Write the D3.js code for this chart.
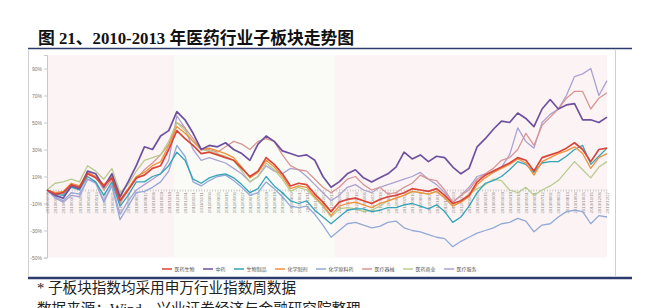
<!DOCTYPE html>
<html>
<head>
<meta charset="utf-8">
<script src="https://cdn.jsdelivr.net/npm/d3@7"></script>
<style>
body { margin: 0; background: #fff; }
</style>
</head>
<body>
<svg id="chart" width="646" height="308"></svg>
<script>
// weekly data, sampled every 3 weeks (one point per x-axis label)
var dates = d3.range(70).map(function(i) { return d3.timeDay.offset(new Date(2010, 0, 8), 21 * i); });

var names = ['医药生物', '中药', '生物制品', '化学制剂', '化学原料药', '医疗器械', '医药商业', '医疗服务'];
var colors = ['#d9453a', '#6e509f', '#33a4b8', '#f0923c', '#92a8d6', '#d99595', '#b8cb8e', '#aaa2d2'];

var yiyaoshengwu = [0,-3,-2,4,2,12,9,3,9,-8, 0,9,11,16,18,30,44,38,33,27, 28,26,24,22,16,10,14,24,19,12, 3,5,4,-3,-9,-16,-9,-7,-6,-8, -10,-7,-5,-4,-2,1,0,-1,1,-4, -10,-8,-4,6,11,14,17,20,24,22, 14,24,26,28,31,35,30,21,30,31];
var zhongyao = [0,-4,-6,3,1,14,12,2,12,-5, 6,18,32,30,40,44,58,52,42,30, 33,32,35,30,27,22,34,40,36,29, 27,25,26,22,10,2,6,12,15,9, 6,9,12,17,28,23,26,21,25,24, 17,12,16,32,38,45,51,50,57,53, 47,60,67,60,63,64,52,52,50,54];
var shengwuzhipin = [0,-3,-4,2,0,10,6,-4,6,-12, -4,6,6,10,12,18,28,22,8,5, 9,11,12,9,4,-2,1,10,3,-2, -8,-10,-8,-15,-20,-25,-20,-15,-14,-14, -16,-15,-13,-13,-11,-10,-12,-14,-11,-16, -24,-20,-12,-2,5,7,10,15,21,19, 13,20,21,21,25,30,33,19,25,31];
var huaxuezhiji = [0,-2,-1,5,3,13,10,4,10,-7, 1,10,13,18,21,33,47,42,36,30, 31,29,27,24,17,9,13,22,17,10, 1,3,2,-5,-11,-19,-12,-10,-9,-11, -13,-10,-8,-6,-4,-1,-2,-3,-1,-6, -12,-9,-5,4,9,13,16,19,23,20, 11,21,24,27,29,32,27,16,24,27];
var huaxueyuanliao = [0,-5,-8,-2,-3,8,5,-9,3,-22, -12,-2,-1,2,6,14,33,25,6,3, 7,10,11,7,2,-4,-2,6,1,-5, -12,-13,-12,-18,-26,-35,-30,-25,-24,-26, -28,-27,-24,-23,-28,-30,-31,-33,-35,-36, -42,-38,-35,-32,-30,-28,-25,-24,-21,-23, -31,-26,-25,-20,-16,-15,-16,-25,-19,-20];
var yiliaoqixie = [0,-2,-3,3,1,12,10,0,8,-10, 0,8,15,20,26,34,50,46,38,30, 30,28,32,36,34,30,36,38,36,26, 18,15,14,8,2,-2,2,8,10,4, 0,2,-3,-2,2,5,11,8,7,0, -9,-4,0,8,12,16,22,24,30,42, 33,48,54,60,68,73,73,60,68,72];
var yiyaoshangye = [0,5,6,8,6,18,14,8,16,-2, 4,14,22,24,26,36,50,44,36,30, 29,27,25,22,14,6,10,20,15,8, -1,2,0,-6,-12,-20,-14,-13,-14,-16, -15,-12,-8,-6,-4,-1,-2,-3,-1,-6, -11,-8,-3,1,4,8,7,0,-2,2, -4,0,3,7,14,21,15,9,17,21];
var yiliaofuwu = [0,-6,-9,-4,-5,8,6,-8,4,-18, -8,0,4,8,12,22,55,46,30,22, 24,22,20,16,12,6,10,18,14,12, 16,15,10,4,-2,-8,-4,2,4,0, -2,2,4,6,8,10,13,8,4,-2, -9,-4,2,10,12,13,17,26,46,36, 31,50,56,60,70,84,86,90,70,81];

var yTicks = [-50, -30, -10, 10, 30, 50, 70, 90];
var band = [new Date(2010, 11, 3), new Date(2012, 0, 22)];

var seriesValues = [yiyaoshengwu, zhongyao, shengwuzhipin, huaxuezhiji, huaxueyuanliao, yiliaoqixie, yiyaoshangye, yiliaofuwu];
// draw order: thin lines first, main index and 中药 on top
var drawOrder = [4, 7, 5, 6, 2, 3, 1, 0];

var svg = d3.select('#chart');

var plotLeft = 47, plotRight = 607, plotTop = 55, plotBottom = 257.5;

var x = d3.scaleTime().domain([dates[0], dates[dates.length - 1]]).range([plotLeft, plotRight]);
var y = d3.scaleLinear().domain([-50, 100]).range([plotBottom, plotTop]);

// title
svg.append('text')
    .attr('x', 38)
    .attr('y', 44)
    .attr('font-family', '"Liberation Serif", "Noto Sans CJK SC", serif')
    .attr('font-weight', 'bold')
    .attr('font-size', 16.8)
    .attr('fill', '#111')
    .text('图 21、2010-2013 年医药行业子板块走势图');

// frame
svg.append('line').attr('x1', 28).attr('x2', 632).attr('y1', 48.5).attr('y2', 48.5)
    .attr('stroke', '#2c3a6e').attr('stroke-width', 1.5);
svg.append('line').attr('x1', 28).attr('x2', 632).attr('y1', 278).attr('y2', 278)
    .attr('stroke', '#2c3a6e').attr('stroke-width', 2.5);
svg.append('line').attr('x1', 28.5).attr('x2', 28.5).attr('y1', 49).attr('y2', 277)
    .attr('stroke', '#cfcfcf').attr('stroke-width', 1);
svg.append('line').attr('x1', 615.5).attr('x2', 615.5).attr('y1', 49).attr('y2', 277)
    .attr('stroke', '#cfcfcf').attr('stroke-width', 1);

// plot background
svg.append('rect')
    .attr('x', plotLeft).attr('y', plotTop)
    .attr('width', plotRight - plotLeft).attr('height', plotBottom - plotTop)
    .attr('fill', '#fcf4f4');
svg.append('rect')
    .attr('x', x(band[0])).attr('y', plotTop)
    .attr('width', x(band[1]) - x(band[0])).attr('height', plotBottom - plotTop)
    .attr('fill', '#fafbf6');

// y axis
var yAxis = svg.append('g')
    .attr('transform', 'translate(' + plotLeft + ',0)')
    .call(d3.axisLeft(y).tickValues(yTicks).tickSize(3).tickPadding(2)
        .tickFormat(function(d) { return d + '%'; }));
yAxis.select('.domain').attr('stroke', '#c8c8c8');
yAxis.selectAll('.tick line').attr('stroke', '#c8c8c8');
yAxis.selectAll('text')
    .attr('font-family', 'Arial, "Liberation Sans", sans-serif')
    .attr('font-size', 5)
    .attr('fill', '#777');

// x axis at 0%
var xAxis = svg.append('g')
    .attr('transform', 'translate(0,' + y(0) + ')')
    .call(d3.axisBottom(x).tickValues(dates).tickSize(0).tickPadding(0).tickFormat(''));
xAxis.select('.domain')
    .attr('stroke', '#bdbdbd')
    .attr('stroke-width', 2)
    .attr('stroke-dasharray', '0.8,1.9');
xAxis.selectAll('.tick').append('text')
    .attr('transform', 'rotate(-90)')
    .attr('x', -2)
    .attr('y', 1.6)
    .attr('text-anchor', 'end')
    .attr('font-family', 'Arial, "Liberation Sans", sans-serif')
    .attr('font-size', 4.3)
    .attr('fill', '#8c8c8c')
    .text(function(d) { return d3.timeFormat('%Y/%m/%d')(d); });

// lines
var line = d3.line()
    .x(function(d, i) { return x(dates[i]); })
    .y(function(d) { return y(d); });

drawOrder.forEach(function(k) {
    svg.append('path')
        .datum(seriesValues[k])
        .attr('fill', 'none')
        .attr('stroke', colors[k])
        .attr('stroke-width', (k === 0 || k === 1) ? 1.7 : 1.3)
        .attr('stroke-linejoin', 'round')
        .attr('d', line);
});

// legend
var legend = svg.append('g').attr('transform', 'translate(162,269)');
var lx = 0;
names.forEach(function(n, k) {
    legend.append('line')
        .attr('x1', lx).attr('x2', lx + 10)
        .attr('y1', 0).attr('y2', 0)
        .attr('stroke', colors[k]).attr('stroke-width', 1.5);
    var t = legend.append('text')
        .attr('x', lx + 12.5).attr('y', 1.8)
        .attr('font-family', '"Noto Sans CJK SC", sans-serif')
        .attr('font-size', 5)
        .attr('fill', '#555')
        .text(n);
    lx += 12.5 + t.node().getComputedTextLength() + 8.5;
});

// notes
svg.append('text')
    .attr('x', 37).attr('y', 293)
    .attr('font-family', '"Liberation Serif", "Noto Sans CJK SC", serif')
    .attr('font-size', 14.6)
    .attr('fill', '#222')
    .text('*  子板块指数均采用申万行业指数周数据');
svg.append('text')
    .attr('x', 37).attr('y', 314)
    .attr('font-family', '"Liberation Serif", "Noto Sans CJK SC", serif')
    .attr('font-size', 14.6)
    .attr('fill', '#222')
    .text('数据来源：Wind，兴业证券经济与金融研究院整理');
</script>
</body>
</html>
